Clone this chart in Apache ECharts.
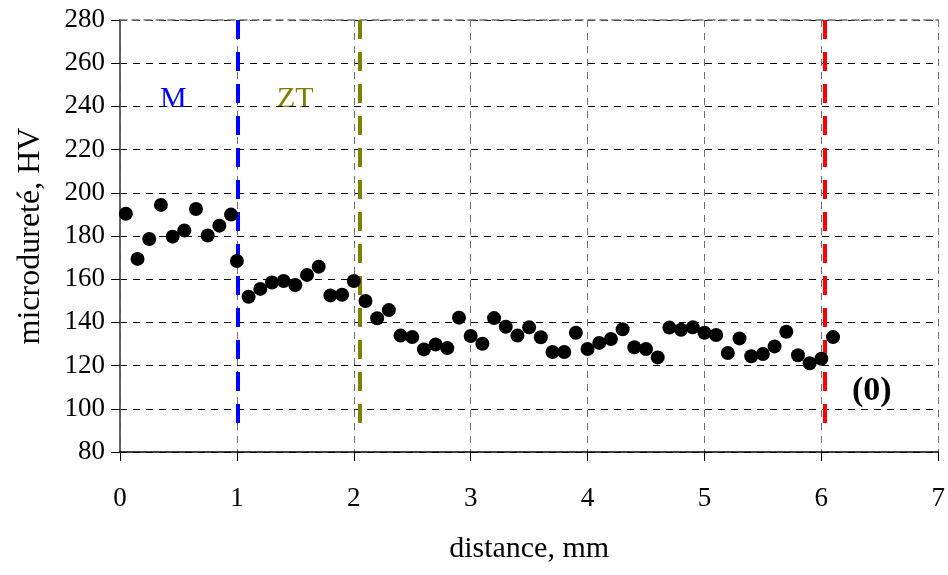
<!DOCTYPE html>
<html>
<head>
<meta charset="utf-8">
<script src="https://cdn.jsdelivr.net/npm/echarts@6/dist/echarts.min.js"></script>
<style>html,body{margin:0;padding:0;background:#fff}#c{width:948px;height:575px}</style>
</head>
<body>
<div id="c"></div>
<script>
const distance = [0.05,0.15,0.25,0.35,0.45,0.55,0.65,0.75,0.85,0.95,
  1.0,1.1,1.2,1.3,1.4,1.5,1.6,1.7,1.8,1.9,2.0,2.1,2.2,2.3,2.4,2.5,2.6,2.7,2.8,2.9,
  3.0,3.1,3.2,3.3,3.4,3.5,3.6,3.7,3.8,3.9,4.0,4.1,4.2,4.3,4.4,4.5,4.6,4.7,4.8,4.9,
  5.0,5.1,5.2,5.3,5.4,5.5,5.6,5.7,5.8,5.9,6.0,6.1];
const hardness = [190.3,169.4,178.6,194.4,179.7,182.6,192.5,180.2,184.8,189.9,
  168.4,151.9,155.5,158.5,159.2,157.3,162,165.8,152.5,152.8,159.2,149.9,141.9,145.7,133.9,133.2,127.5,129.8,128.1,142.2,
  133.7,130.1,142,138,133.9,137.7,133.1,126.3,126.3,135.2,127.7,130.5,132.3,136.8,128.5,127.7,123.8,137.6,136.6,137.7,
  135.2,134.2,125.8,132.6,124.3,125.4,128.9,135.7,124.8,121.1,123.2,133.2];
const boundaries = [1.01, 2.05, 6.03];
const boundaryColors = ['#0000ff', '#808000', '#ff0000'];
const boundaryRange = [89, 280];
const xTicks = [0, 7, 1];
const yTicks = [80, 280, 20];

const chart = echarts.init(document.getElementById('c'), null, {renderer: 'canvas'});
const font = 'Liberation Serif';
const pts = distance.map((d, i) => [d, hardness[i]]);
const lines = boundaries.map((b, i) => [
  {coord: [b, boundaryRange[1]], lineStyle: {color: boundaryColors[i], width: 4, type: [19, 13], opacity: 1}},
  {coord: [b, boundaryRange[0]]}
]);

chart.setOption({
  animation: false,
  grid: {left: 120, top: 20, right: 6, bottom: 123, containLabel: false},
  xAxis: [{
    type: 'value', min: xTicks[0], max: xTicks[1], interval: xTicks[2],
    name: 'distance, mm', nameLocation: 'middle', nameGap: 82,
    nameTextStyle: {fontFamily: font, fontSize: 30, color: '#000'},
    axisLine: {lineStyle: {color: '#000', width: 1.5}},
    axisTick: {length: 9, lineStyle: {color: '#000'}},
    axisLabel: {fontFamily: font, fontSize: 27, color: '#000', margin: 33},
    splitLine: {show: true, lineStyle: {color: '#707070', type: [7, 6], width: 1}}
  }, {
    type: 'value', position: 'top', min: xTicks[0], max: xTicks[1],
    axisLine: {show: true, lineStyle: {color: '#707070', type: [7, 5], width: 1.5}},
    axisTick: {show: false}, axisLabel: {show: false}, splitLine: {show: false}
  }],
  yAxis: [{
    type: 'value', min: yTicks[0], max: yTicks[1], interval: yTicks[2],
    name: 'microdureté, HV', nameLocation: 'middle', nameGap: 73, nameRotate: 90,
    nameTextStyle: {fontFamily: font, fontSize: 32, color: '#000'},
    axisLine: {show: true, lineStyle: {color: '#000', width: 1.5}},
    axisTick: {show: true, length: 9, lineStyle: {color: '#000'}},
    axisLabel: {fontFamily: font, fontSize: 27, color: '#000', margin: 15},
    splitLine: {show: true, lineStyle: {color: '#000', type: [7, 6], width: 1}}
  }, {
    type: 'value', position: 'right', min: yTicks[0], max: yTicks[1],
    axisLine: {show: true, lineStyle: {color: '#707070', width: 1.5}},
    axisTick: {show: false}, axisLabel: {show: false}, splitLine: {show: false}
  }],
  series: [{
    type: 'scatter', xAxisIndex: 0, yAxisIndex: 0,
    data: pts, symbolSize: 14,
    itemStyle: {color: '#000', opacity: 1},
    z: 5,
    markLine: {
      silent: true, symbol: 'none', label: {show: false},
      data: lines, z: 4
    }
  }],
  graphic: [
    {type: 'text', left: 160, top: 84, style: {text: 'M', fill: '#0000ff', font: '30px "Liberation Serif"'}},
    {type: 'text', left: 277, top: 84, style: {text: 'ZT', fill: '#808000', font: '30px "Liberation Serif"'}},
    {type: 'text', left: 852, top: 374, style: {text: '(0)', fill: '#000', font: 'bold 34px "Liberation Serif"'}}
  ]
});
</script>
</body>
</html>
